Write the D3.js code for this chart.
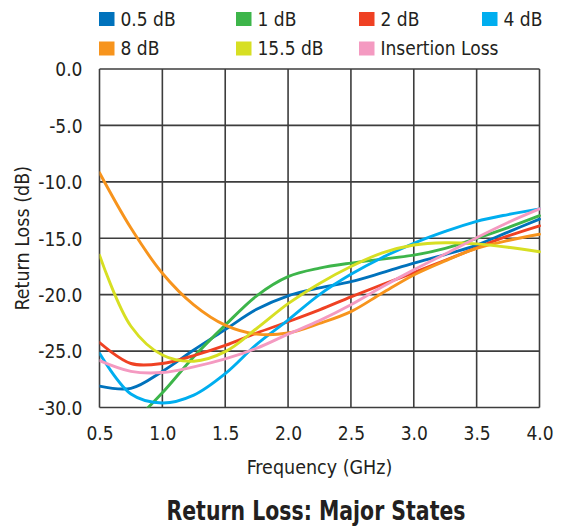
<!DOCTYPE html>
<html>
<head>
<meta charset="utf-8">
<script src="https://cdn.jsdelivr.net/npm/d3@7"></script>
<style>
  html, body { margin: 0; padding: 0; background: #fff; }
  svg { display: block; }
  text { font-family: "Liberation Sans Narrow", "DejaVu Sans Condensed", "Arial Narrow", sans-serif; fill: #231f20; }
</style>
</head>
<body>
<div id="chart"></div>
<script>
// ---- Data ----
const frequencies = [0.5, 0.75, 1.0, 1.25, 1.5, 1.75, 2.0, 2.25, 2.5, 2.75, 3.0, 3.25, 3.5, 3.75, 4.0];

const seriesNames = ["0.5 dB", "1 dB", "2 dB", "4 dB", "8 dB", "15.5 dB", "Insertion Loss"];
const seriesColors = ["#0072bc", "#3db54a", "#ef4123", "#00aeef", "#f7941d", "#d7df23", "#f49ac1"];

const rl_0_5dB  = [-28.1, -28.3, -26.8, -24.9, -23.1, -21.3, -20.1, -19.4, -18.85, -18.05, -17.2, -16.45, -15.6, -14.45, -13.3];
const rl_1dB    = [-34.0, -31.5, -28.7, -25.5, -22.7, -20.1, -18.4, -17.65, -17.2, -16.85, -16.5, -15.9, -15.0, -14.05, -13.0];
const rl_2dB    = [-24.25, -26.1, -26.1, -25.4, -24.5, -23.4, -22.4, -21.35, -20.2, -19.1, -18.05, -16.95, -15.85, -14.8, -13.9];
const rl_4dB    = [-25.2, -28.8, -29.6, -28.9, -27.0, -24.4, -22.25, -20.0, -18.2, -16.7, -15.45, -14.4, -13.5, -12.9, -12.4];
const rl_8dB    = [-9.2, -14.1, -18.1, -20.9, -22.7, -23.5, -23.4, -22.55, -21.5, -19.85, -18.25, -17.0, -15.9, -15.2, -14.65];
const rl_15_5dB = [-16.5, -22.8, -25.35, -25.9, -25.05, -23.0, -20.8, -19.0, -17.5, -16.3, -15.6, -15.4, -15.5, -15.8, -16.2];
const insertionLoss = [-25.85, -26.8, -26.9, -26.4, -25.7, -24.75, -23.5, -22.3, -20.9, -19.3, -17.8, -16.4, -14.95, -13.6, -12.4];

const seriesValues = [rl_0_5dB, rl_1dB, rl_2dB, rl_4dB, rl_8dB, rl_15_5dB, insertionLoss];

const xTicks = [0.5, 1.0, 1.5, 2.0, 2.5, 3.0, 3.5, 4.0];
const yTicks = [0, -5, -10, -15, -20, -25, -30];

const xTitle = "Frequency (GHz)";
const yTitle = "Return Loss (dB)";
const chartTitle = "Return Loss: Major States";

// ---- Layout ----
const W = 562, H = 527;
const plot = { left: 99.5, right: 539.5, top: 69, bottom: 407.5 };
const FONT = "'Liberation Sans Narrow', 'DejaVu Sans Condensed', sans-serif";

const svg = d3.select("#chart").append("svg").attr("width", W).attr("height", H);

const x = d3.scaleLinear().domain([0.5, 4.0]).range([plot.left, plot.right]);
const y = d3.scaleLinear().domain([-30, 0]).range([plot.bottom, plot.top]);

// Grid
const gridColor = "#3d3d3d";
const grid = svg.append("g");
grid.selectAll("line.v").data(xTicks).join("line")
  .attr("x1", d => x(d)).attr("x2", d => x(d))
  .attr("y1", plot.top).attr("y2", plot.bottom)
  .attr("stroke", gridColor).attr("stroke-width", 1.6);
grid.selectAll("line.h").data(yTicks).join("line")
  .attr("x1", plot.left).attr("x2", plot.right)
  .attr("y1", d => y(d)).attr("y2", d => y(d))
  .attr("stroke", gridColor).attr("stroke-width", 1.6);

const fmt = d => d.toFixed(1);

// Axes (labels only)
const xAxis = d3.axisBottom(x).tickValues(xTicks).tickFormat(fmt).tickSize(0).tickPadding(0);
const gx = svg.append("g").attr("transform", `translate(0,${plot.bottom})`).call(xAxis);
gx.select(".domain").remove();
gx.selectAll("text").attr("dy", null).attr("y", 32).style("font-size", "19px")
  .style("font-family", FONT).attr("fill", "#231f20");

const yAxis = d3.axisLeft(y).tickValues(yTicks).tickFormat(fmt).tickSize(0).tickPadding(0);
const gy = svg.append("g").attr("transform", `translate(${plot.left},0)`).call(yAxis);
gy.select(".domain").remove();
gy.selectAll("text").attr("x", -17).attr("dy", "0.36em").style("font-size", "19px")
  .style("font-family", FONT).attr("fill", "#231f20");

// Clip
svg.append("clipPath").attr("id", "clip").append("rect")
  .attr("x", plot.left).attr("y", plot.top - 2)
  .attr("width", plot.right - plot.left + 2).attr("height", plot.bottom - plot.top + 2);

const line = d3.line()
  .x((d, i) => x(frequencies[i]))
  .y(d => y(d))
  .curve(d3.curveCatmullRom.alpha(0.5));

const lines = svg.append("g").attr("clip-path", "url(#clip)");
lines.selectAll("path").data(seriesValues).join("path")
  .attr("d", d => line(d))
  .attr("fill", "none")
  .attr("stroke", (d, i) => seriesColors[i])
  .attr("stroke-width", 2.9)
  .attr("stroke-linecap", "round");

// Legend
const legendPos = [[99, 12], [236, 12], [359, 12], [482, 12], [99, 41.5], [236, 41.5], [359, 41.5]];
const lg = svg.append("g");
seriesNames.forEach((name, i) => {
  const [lx, ly] = legendPos[i];
  lg.append("rect").attr("x", lx).attr("y", ly).attr("width", 15.5).attr("height", 14)
    .attr("fill", seriesColors[i]);
  lg.append("text").attr("x", lx + 21.5).attr("y", ly + 7).attr("dy", "0.36em")
    .style("font-size", "19px").text(name);
});

// Titles
svg.append("text").attr("x", (plot.left + plot.right) / 2).attr("y", 467).attr("dy", "0.36em")
  .attr("text-anchor", "middle").style("font-size", "19.5px").text(xTitle);

svg.append("text").attr("transform", `translate(22,${(plot.top + plot.bottom) / 2}) rotate(-90)`)
  .attr("dy", "0.36em").attr("text-anchor", "middle").style("font-size", "19.5px").text(yTitle);

svg.append("text").attr("x", 316).attr("y", 511).attr("dy", "0.36em")
  .attr("text-anchor", "middle").style("font-size", "26px").style("font-weight", "bold")
  .attr("textLength", 299).attr("lengthAdjust", "spacingAndGlyphs").text(chartTitle);
</script>
</body>
</html>
